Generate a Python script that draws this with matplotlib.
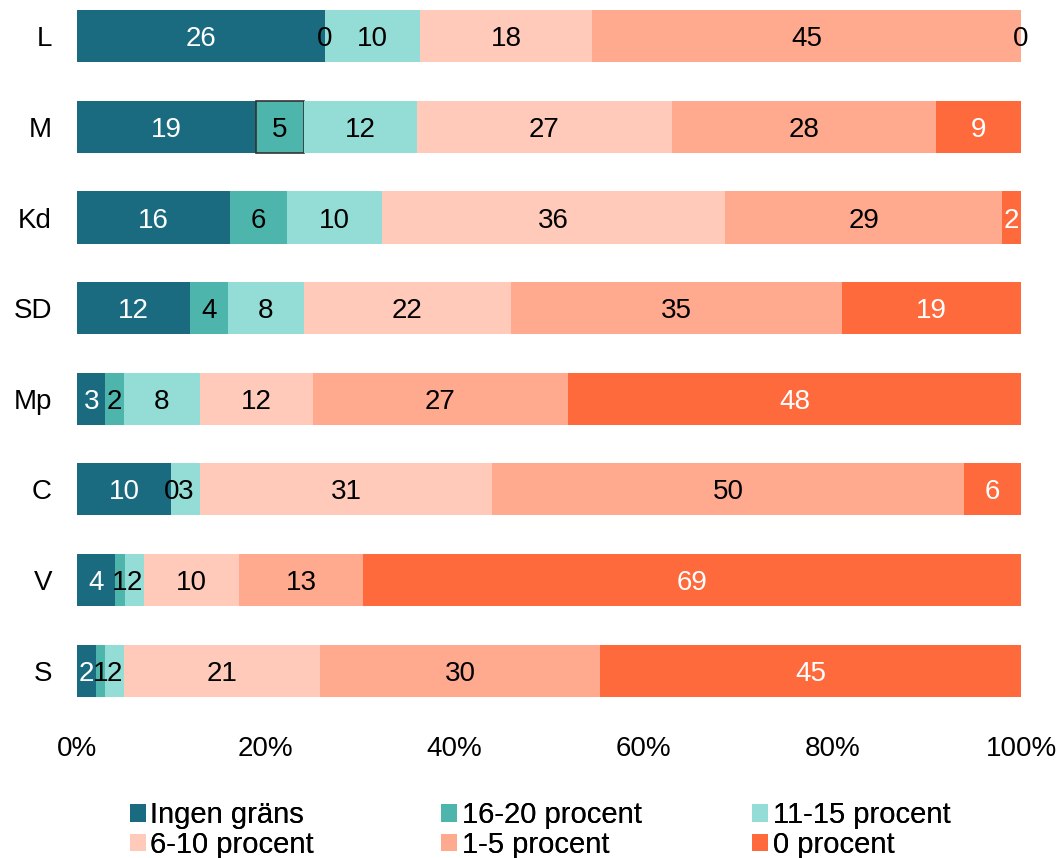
import matplotlib.pyplot as plt
import numpy as np

plt.rcParams['font.family'] = ['Liberation Sans', 'DejaVu Sans']

parties = ['L', 'M', 'Kd', 'SD', 'Mp', 'C', 'V', 'S']
series = ['Ingen gräns', '16-20 procent', '11-15 procent', '6-10 procent', '1-5 procent', '0 procent']
colors = ['#1a6b80', '#4db5ab', '#93ddd6', '#ffcab9', '#ffa98f', '#ff6a3d']

ingen = [26, 19, 16, 12, 3, 10, 4, 2]
p16_20 = [0, 5, 6, 4, 2, 0, 1, 1]
p11_15 = [10, 12, 10, 8, 8, 3, 2, 2]
p6_10 = [18, 27, 36, 22, 12, 31, 10, 21]
p1_5 = [45, 28, 29, 35, 27, 50, 13, 30]
p0 = [0, 9, 2, 19, 48, 6, 69, 45]

vals = np.array([ingen, p16_20, p11_15, p6_10, p1_5, p0], dtype=float)
shares = vals / vals.sum(axis=0)

fig = plt.figure(figsize=(10.61, 8.58), dpi=100)
ax = fig.add_axes([0.0726, 0.155, 0.8897, 0.845])

y = np.arange(len(parties))
left = np.zeros(len(parties))
bars = []
for i, name in enumerate(series):
    b = ax.barh(y, shares[i], left=left, height=0.575, color=colors[i], label=name, linewidth=0)
    bars.append(b)
    for j in range(len(parties)):
        v = vals[i, j]
        white = (i == 0 or i == 5) and v > 0
        ax.text(left[j] + shares[i, j] / 2, y[j], '%d' % v, ha='center', va='center_baseline',
                fontsize=20, color='white' if white else 'black')
    left += shares[i]

# the highlighted segment in M
bars[1][1].set_edgecolor('#333333')
bars[1][1].set_linewidth(1.2)

ax.set_xlim(0, 1)
ax.set_ylim(7.6, -0.4)
ax.set_yticks(y)
ax.set_yticklabels(parties, fontsize=20, va='center_baseline')
ax.set_xticks(np.linspace(0, 1, 6))
ax.set_xticklabels(['0%', '20%', '40%', '60%', '80%', '100%'], fontsize=20)
ax.tick_params(axis='x', length=0, pad=8)
ax.tick_params(axis='y', length=0, pad=18)
for s in ax.spines.values():
    s.set_visible(False)

# legend: three fixed-width columns, two rows
h, l = ax.get_legend_handles_labels()
col_x = [0.1225, 0.416, 0.709]
for c in range(3):
    leg = fig.legend([h[c], h[c + 3]], [l[c], l[c + 3]], loc='upper left',
                     bbox_to_anchor=(col_x[c], 0.066), frameon=False, fontsize=21,
                     handlelength=0.55, handleheight=0.55, handletextpad=0.15,
                     labelspacing=0.05, borderpad=0, borderaxespad=0)
    fig.add_artist(leg)

fig.savefig('out.png', dpi=100)
